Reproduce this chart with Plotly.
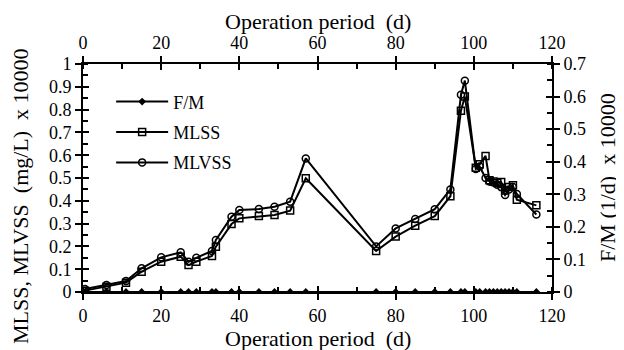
import plotly.graph_objects as go

days = [0.5, 6, 11, 15, 20, 25, 27, 29, 33, 34, 38, 40, 45, 49, 53, 57, 75, 80, 85, 90, 94,
        96.7, 97.7, 100.5, 101.5, 103, 104, 105, 106, 107, 108, 109, 110, 111, 116]
mlss = [0.006, 0.023, 0.041, 0.089, 0.133, 0.155, 0.118, 0.133, 0.158, 0.199, 0.298, 0.323,
        0.333, 0.338, 0.357, 0.499, 0.18, 0.243, 0.291, 0.333, 0.42, 0.795, 0.857, 0.545,
        0.56, 0.597, 0.49, 0.485, 0.478, 0.482, 0.445, 0.46, 0.468, 0.405, 0.38]
mlvss = [0.013, 0.031, 0.048, 0.104, 0.152, 0.174, 0.133, 0.15, 0.18, 0.228, 0.33, 0.36,
         0.364, 0.374, 0.396, 0.586, 0.2, 0.279, 0.32, 0.363, 0.45, 0.865, 0.927, 0.54,
         0.55, 0.5, 0.485, 0.48, 0.47, 0.46, 0.425, 0.45, 0.46, 0.43, 0.34]
fm = [0.0] * len(days)

x_title = "Operation period  (d)"
y_left_title = "MLSS, MLVSS  (mg/L)  x 10000"
y_right_title = "F/M (1/d)  x 10000"

FONT = "Liberation Serif"
fig = go.Figure()

fig.add_trace(go.Scatter(x=days, y=fm, name="F/M", mode="lines+markers", xaxis="x", yaxis="y2",
                         legendgroup="a",
                         line=dict(color="black", width=2),
                         marker=dict(symbol="diamond", size=6, color="black")))
fig.add_trace(go.Scatter(x=days, y=mlss, name="MLSS", mode="lines+markers", xaxis="x", yaxis="y",
                         legendgroup="b",
                         line=dict(color="black", width=2),
                         marker=dict(symbol="square-open", size=7, color="black", line=dict(width=1.5))))
fig.add_trace(go.Scatter(x=days, y=mlvss, name="MLVSS", mode="lines+markers", xaxis="x", yaxis="y",
                         legendgroup="c",
                         line=dict(color="black", width=2),
                         marker=dict(symbol="circle-open", size=7, color="black", line=dict(width=1.5))))
# helper empty traces to bind the extra axes
for xa, ya in [("x2", "y"), ("x3", "y3"), ("x4", "y4")]:
    fig.add_trace(go.Scatter(x=[None], y=[None], xaxis=xa, yaxis=ya, showlegend=False,
                             hoverinfo="skip", mode="markers"))

tickfont = dict(family=FONT, size=18, color="black")
titlefont = dict(family=FONT, size=22, color="black")
common = dict(showline=True, linecolor="black", linewidth=2, showgrid=False, zeroline=False,
              tickcolor="black", tickwidth=2, ticklen=6, tickfont=tickfont, automargin=False)
minor_x = dict(dtick=10, ticks="inside", ticklen=5, tickcolor="black", tickwidth=1.5)
minor_y = dict(dtick=0.05, ticks="inside", ticklen=5, tickcolor="black", tickwidth=1.5)

xr = [0, 120]
fig.update_layout(
    width=616, height=342,
    margin=dict(l=75, r=72, t=56, b=58),
    plot_bgcolor="white", paper_bgcolor="white",
    showlegend=True,
    legend=dict(x=0.06, y=0.915, xanchor="left", yanchor="top", bgcolor="rgba(0,0,0,0)",
                font=dict(family=FONT, size=18, color="black"), itemwidth=52,
                tracegroupgap=4),
    xaxis=dict(range=xr, dtick=20, ticks="outside", side="bottom", minor=minor_x, **common),
    xaxis2=dict(range=xr, dtick=20, ticks="outside", side="top", overlaying="x", minor=minor_x, **common),
    xaxis3=dict(range=xr, dtick=20, ticks="inside", side="bottom", overlaying="x",
                showticklabels=False, **common),
    xaxis4=dict(range=xr, dtick=20, ticks="inside", side="top", overlaying="x",
                showticklabels=False, **common),
    yaxis=dict(range=[0, 1], dtick=0.1, ticks="outside", side="left", minor=minor_y,
               tickformat="~g", **common),
    yaxis2=dict(range=[0, 0.7], dtick=0.1, ticks="outside", side="right", overlaying="y",
                minor=minor_y, tickformat="~g", **common),
    yaxis3=dict(range=[0, 1], dtick=0.1, ticks="inside", side="left", overlaying="y",
                showticklabels=False, **common),
    yaxis4=dict(range=[0, 0.7], dtick=0.1, ticks="inside", side="right", overlaying="y",
                showticklabels=False, **common),
    annotations=[
        dict(text=x_title, xref="paper", yref="paper", x=0.5, y=0, yshift=-46,
             xanchor="center", yanchor="middle", showarrow=False, font=titlefont),
        dict(text=x_title, xref="paper", yref="paper", x=0.5, y=1, yshift=43,
             xanchor="center", yanchor="middle", showarrow=False, font=titlefont),
        dict(text=y_left_title, xref="paper", yref="paper", x=0, y=0.5, xshift=-63, yshift=-18,
             xanchor="center", yanchor="middle", textangle=-90, showarrow=False, font=titlefont),
        dict(text=y_right_title, xref="paper", yref="paper", x=1, y=0.5, xshift=55,
             xanchor="center", yanchor="middle", textangle=-90, showarrow=False, font=titlefont),
    ],
)

fig.write_html("out.html")
